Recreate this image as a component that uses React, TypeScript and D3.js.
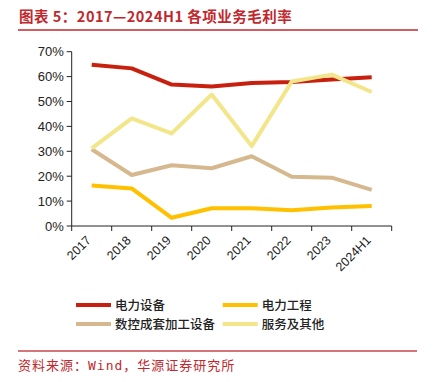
import React from "react";
import * as d3 from "d3";

const categories = ["2017", "2018", "2019", "2020", "2021", "2022", "2023", "2024H1"];
const powerEquip = [64.8, 63.3, 56.8, 56.0, 57.4, 57.8, 58.8, 59.7];
const powerEng = [16.3, 15.1, 3.3, 7.1, 7.1, 6.3, 7.4, 8.0];
const cncEquip = [30.8, 20.5, 24.4, 23.2, 28.0, 19.8, 19.4, 14.5];
const services = [31.2, 43.2, 37.2, 52.8, 32.1, 58.0, 60.8, 53.8];
const seriesNames = ["电力设备", "电力工程", "数控成套加工设备", "服务及其他"];
const yTicks = [0, 10, 20, 30, 40, 50, 60, 70];

const colors = ["#C8200E", "#FFC000", "#D6B88E", "#F3E68A"];
const seriesData = [powerEquip, powerEng, cncEquip, services];
const drawOrder = [0, 1, 2, 3];

export default function App() {
  const W = 434, H = 382;
  const x0 = 71.7, x1 = 391.7, yTop = 51.7, yBot = 226;
  const x = d3.scaleBand<string>().domain(categories).range([x0, x1]).padding(0);
  const y = d3.scaleLinear().domain([0, 70]).range([yBot, yTop]);
  const line = d3.line<number>()
    .x((_, i) => (x(categories[i]) as number) + x.bandwidth() / 2)
    .y((d) => y(d));
  const red = "#C0282E";
  const tickFont = "Liberation Sans, Arial, sans-serif";
  const cjk = "'Noto Sans CJK SC', sans-serif";
  const legend = [
    { i: 0, lx: 76, ly: 305 },
    { i: 1, lx: 222.7, ly: 305 },
    { i: 2, lx: 76, ly: 324 },
    { i: 3, lx: 222.7, ly: 324 },
  ];
  const bandEdges = categories.map((c) => x(c) as number).concat([x1]);
  return (
    <svg width={W} height={H} style={{ position: "absolute", left: 0, top: 0, background: "#fff" }}>
      <text x={19} y={22} fontFamily={cjk} fontWeight="bold" fontSize={14.5} letterSpacing={0.5} fill={red}>
        图表 5：2017—2024H1 各项业务毛利率
      </text>
      <line x1={18} x2={418} y1={30} y2={30} stroke={red} strokeWidth={1.5} />

      {/* y axis */}
      <line x1={x0} x2={x0} y1={yTop} y2={yBot} stroke="#222" strokeWidth={1} />
      {yTicks.map((t) => (
        <g key={t}>
          <line x1={x0 - 5} x2={x0} y1={y(t)} y2={y(t)} stroke="#222" />
          <text x={x0 - 8} y={y(t)} dy="0.35em" textAnchor="end" fontFamily={tickFont} fontSize={13} fill="#222">
            {t}%
          </text>
        </g>
      ))}
      {/* x axis */}
      <line x1={x0} x2={x1} y1={yBot} y2={yBot} stroke="#222" />
      {bandEdges.map((e, i) => (
        <line key={i} x1={e} x2={e} y1={yBot} y2={yBot + 5} stroke="#222" />
      ))}
      {categories.map((c) => {
        const cx = (x(c) as number) + x.bandwidth() / 2 - 3;
        const cy = yBot + 12;
        return (
          <text key={c} x={cx} y={cy} transform={`rotate(-45 ${cx} ${cy})`} textAnchor="end"
            dy="0.35em" fontFamily={tickFont} fontSize={12.5} fill="#222">
            {c}
          </text>
        );
      })}

      {drawOrder.map((si) => (
        <path key={si} d={line(seriesData[si]) as string} fill="none" stroke={colors[si]}
          strokeWidth={4} strokeLinejoin="round" />
      ))}

      {legend.map((l) => (
        <g key={l.i}>
          <line x1={l.lx} x2={l.lx + 35} y1={l.ly} y2={l.ly} stroke={colors[l.i]} strokeWidth={4} />
          <text x={l.lx + 39} y={l.ly} dy="0.36em" fontFamily={cjk} fontWeight="500" fontSize={12.5} fill="#222">
            {seriesNames[l.i]}
          </text>
        </g>
      ))}

      <line x1={18} x2={417} y1={351} y2={351} stroke={red} strokeWidth={1.5} opacity={0.85} />
      <text x={18} y={370} fontFamily={cjk} fontSize={13} letterSpacing={1} fill={red}>
        资料来源：<tspan fontFamily="'DejaVu Sans Mono', monospace">Wind</tspan>，华源证券研究所
      </text>
    </svg>
  );
}
